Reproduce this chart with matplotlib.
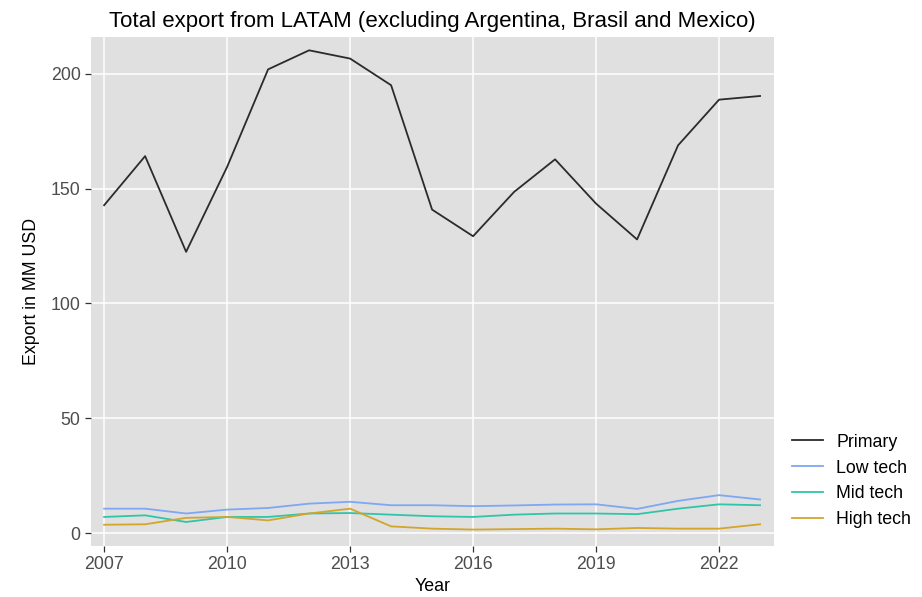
import matplotlib.pyplot as plt

plt.rcParams['font.family'] = ['Liberation Sans', 'DejaVu Sans']

years = list(range(2007, 2024))
primary = [142.8, 164.2, 122.5, 159.5, 202.0, 210.3, 206.7, 195.1, 140.9, 129.3,
           148.6, 162.8, 143.5, 127.9, 168.9, 188.8, 190.4]
low_tech = [10.6, 10.6, 8.5, 10.2, 10.9, 12.8, 13.6, 12.1, 12.1, 11.7,
            12.0, 12.4, 12.5, 10.5, 14.0, 16.5, 14.6]
mid_tech = [7.0, 7.7, 4.8, 7.0, 7.0, 8.5, 8.7, 8.0, 7.3, 7.0,
            8.0, 8.5, 8.5, 8.2, 10.6, 12.5, 12.1]
high_tech = [3.6, 3.8, 6.6, 7.0, 5.5, 8.5, 10.6, 2.9, 1.9, 1.5,
             1.7, 1.9, 1.6, 2.2, 1.9, 1.9, 3.8]

series = [
    ("Primary", primary, "#2b2b2b"),
    ("Low tech", low_tech, "#7ea7f4"),
    ("Mid tech", mid_tech, "#2fc5aa"),
    ("High tech", high_tech, "#d3a52b"),
]

W, H = 922, 597
fig = plt.figure(figsize=(W / 100, H / 100), dpi=100)
# panel box in pixels: left 91, right 774, top 37, bottom 546
ax = fig.add_axes([91 / W, 1 - 546 / H, (774 - 91) / W, (546 - 37) / H])

ax.set_facecolor("#e0e0e0")
for name, vals, col in series:
    ax.plot(years, vals, color=col, lw=1.3, label=name)

ax.set_xlim(2006.68, 2023.34)
ax.set_ylim(-5.66, 216.1)
ax.set_xticks([2007, 2010, 2013, 2016, 2019, 2022])
ax.set_yticks([0, 50, 100, 150, 200])
ax.grid(True, color="white", lw=1.1)
ax.set_axisbelow(True)
for s in ax.spines.values():
    s.set_visible(False)
ax.tick_params(labelcolor="#4d4d4d", labelsize=12.8, length=4.5, width=0.9,
               color="#333333", pad=3)

ax.set_title("Total export from LATAM (excluding Argentina, Brasil and Mexico)",
             fontsize=16, pad=7)
ax.set_xlabel("Year", fontsize=12.8, labelpad=3)
ax.set_ylabel("Export in MM USD", fontsize=12.8, labelpad=8)

fig.legend(loc="center left", bbox_to_anchor=(792 / W, 1 - 481 / H), frameon=False,
           fontsize=12.8, handlelength=1.75, handletextpad=0.75,
           labelspacing=0.5, borderpad=0, borderaxespad=0)

fig.savefig("out.png", dpi=100)
